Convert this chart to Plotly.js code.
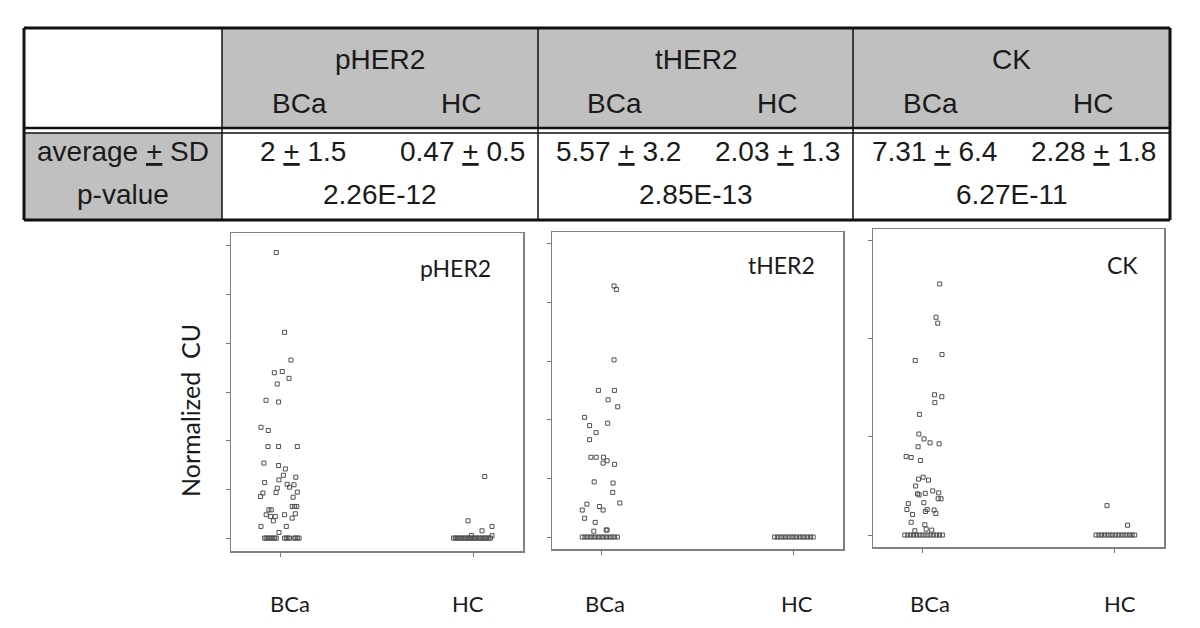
<!DOCTYPE html>
<html>
<head>
<meta charset="utf-8">
<script src="https://cdn.plot.ly/plotly-3.0.1.min.js"></script>
<style>
  html, body { margin: 0; padding: 0; background: #fff; }
  #chart { width: 1200px; height: 628px; }
</style>
</head>
<body>
<div id="chart"></div>
<script>
// ---- table values ----
const markers = ['pHER2', 'tHER2', 'CK'];
const groups = ['BCa', 'HC'];
const avgText = [['2', '1.5'], ['0.47', '0.5'], ['5.57', '3.2'], ['2.03', '1.3'], ['7.31', '6.4'], ['2.28', '1.8']];
const pValues = ['2.26E-12', '2.85E-13', '6.27E-11'];

// ---- scatter values (x = jitter offset from category, y = normalized CU) ----
const pherBcaX = [-0.021, 0.022, 0.055, -0.031, 0.010, 0.045, -0.016, -0.074, -0.009, -0.100, -0.062, -0.064, -0.009, 0.088,
  -0.085, -0.009, 0.026, 0.016, 0.080, -0.081, -0.007, 0.035, 0.071, 0.048, -0.016, -0.090, -0.102, -0.022, 0.088, 0.066,
  0.061, 0.074, 0.085, -0.059, -0.047, -0.073, 0.022, 0.078, -0.050, -0.026, -0.036, 0.061, -0.100, 0.031, -0.007,
  -0.081, -0.073, -0.064, -0.055, -0.047, -0.038, -0.029, -0.021, 0.022, 0.031, 0.040, 0.048, 0.071, 0.080, 0.088, 0.097];
const pherBcaY = [11.73, 8.45, 7.31, 6.79, 6.84, 6.56, 6.33, 5.66, 5.59, 4.55, 4.42, 3.76, 3.76, 3.76,
  3.08, 2.98, 2.84, 2.58, 2.50, 2.28, 2.39, 2.21, 2.19, 2.09, 2.05, 1.85, 1.71, 1.87, 1.89, 1.68,
  1.30, 1.30, 1.30, 1.16, 1.16, 0.96, 0.96, 1.00, 0.89, 0.89, 0.71, 0.82, 0.48, 0.48, 0.23,
  0, 0, 0, 0, 0, 0, 0, 0, 0, 0, 0, 0, 0, 0, 0, 0];
const pherHcX = [-0.029, 0.057, 0.043, 0.095, -0.012, 0.095,
  -0.104, -0.095, -0.087, -0.078, -0.069, -0.061, -0.052, -0.043, -0.035, -0.026, -0.017, -0.009,
  0.000, 0.009, 0.017, 0.026, 0.035, 0.043, 0.052, 0.061, 0.069, 0.078, 0.087];
const pherHcY = [0.71, 2.53, 0.30, 0.48, 0.11, 0.10,
  0, 0, 0, 0, 0, 0, 0, 0, 0, 0, 0, 0, 0, 0, 0, 0, 0, 0, 0, 0, 0, 0, 0];

const therBcaX = [0.067, 0.079, 0.067, -0.014, 0.069, 0.036, 0.086, -0.086, -0.060, 0.034, -0.026, -0.060, -0.053, -0.026,
  0.012, 0.031, 0.010, 0.069, -0.036, 0.062, 0.060, 0.097, -0.074, -0.098, -0.009, 0.010, -0.086, -0.031, -0.038, 0.026, 0.031,
  -0.098, -0.084, -0.070, -0.056, -0.042, -0.028, -0.014, 0.000, 0.014, 0.028, 0.042, 0.056, 0.070, 0.084];
const therBcaY = [21.4, 21.1, 15.1, 12.5, 12.5, 11.7, 11.1, 10.2, 9.5, 9.7, 8.9, 8.3, 6.8, 6.8,
  6.8, 6.5, 6.3, 6.2, 4.7, 4.6, 3.8, 2.9, 2.8, 2.3, 2.6, 2.3, 1.6, 1.25, 0.5, 0.6, 0.6,
  0, 0, 0, 0, 0, 0, 0, 0, 0, 0, 0, 0, 0, 0];
const therHcX = [-0.100, -0.086, -0.071, -0.057, -0.043, -0.029, -0.014, 0.000, 0.014, 0.029, 0.043, 0.057, 0.071, 0.086, 0.100];
const therHcY = [0, 0, 0, 0, 0, 0, 0, 0, 0, 0, 0, 0, 0, 0, 0];

const ckBcaX = [0.091, 0.072, 0.081, 0.103, -0.036, 0.064, 0.102, 0.066, -0.014, -0.017, 0.010, 0.041, 0.088, -0.021,
  -0.083, -0.057, -0.009, -0.019, 0.005, 0.033, -0.034, -0.024, -0.016, 0.016, 0.055, 0.086, 0.083, 0.098, -0.072, 0.009,
  -0.079, -0.050, 0.026, 0.017, 0.062, 0.071, -0.057, 0.014, -0.038, 0.021, 0.050,
  -0.090, -0.075, -0.060, -0.045, -0.030, -0.015, 0.000, 0.015, 0.030, 0.045, 0.060, 0.075, 0.090, 0.105];
const ckBcaY = [25.6, 22.2, 21.6, 18.4, 17.8, 14.3, 14.1, 13.5, 12.3, 10.3, 9.8, 9.4, 9.3, 9.0,
  8.0, 7.9, 7.6, 5.7, 5.9, 5.6, 5.0, 4.2, 4.1, 4.25, 4.5, 4.3, 3.7, 3.7, 3.2, 3.3,
  2.6, 2.1, 2.6, 2.4, 2.55, 2.2, 1.3, 1.05, 0.44, 0.6, 0.5,
  0, 0, 0, 0, 0, 0, 0, 0, 0, 0, 0, 0, 0, 0];
const ckHcX = [-0.041, 0.066,
  -0.098, -0.083, -0.069, -0.054, -0.040, -0.025, -0.011, 0.004, 0.018, 0.033, 0.047, 0.062, 0.076, 0.090, 0.103];
const ckHcY = [3.0, 1.0, 0, 0, 0, 0, 0, 0, 0, 0, 0, 0, 0, 0, 0, 0, 0];

// ---- helpers: pixel -> paper fraction ----
const W = 1200, H = 628;
const fx = x => x / W;
const fy = y => 1 - y / H;

const tableFont = 'Liberation Sans, Arial, sans-serif';
const plotFont = 'Lato, Open Sans, sans-serif';
const gray = '#c0c0c0';

const shapes = [];
const annotations = [];

function rect(x0, y0, x1, y1, fill) {
  shapes.push({type: 'rect', xref: 'paper', yref: 'paper', x0: fx(x0), x1: fx(x1), y0: fy(y0), y1: fy(y1),
    fillcolor: fill, line: {width: 0}, layer: 'below'});
}
function line(x0, y0, x1, y1, w) {
  shapes.push({type: 'line', xref: 'paper', yref: 'paper', x0: fx(x0), x1: fx(x1), y0: fy(y0), y1: fy(y1),
    line: {color: '#111', width: w}});
}
function text(x, y, t, size, font, angle) {
  annotations.push({xref: 'paper', yref: 'paper', x: fx(x), y: fy(y), text: t, showarrow: false, textangle: angle || 0,
    xanchor: 'center', yanchor: 'middle', font: {family: font || tableFont, size: size || 28, color: '#1a1a1a'}});
}

// table geometry
const tL = 24, tR = 1170, tT = 28, tB = 220, dbl1 = 128, dbl2 = 133;
const colEdges = [222, 538, 853, 1170];

rect(colEdges[0], tT, tR, dbl1, gray);
rect(tL, dbl2, colEdges[0], tB, gray);
line(tL, tT, tR, tT, 3);
line(tL, tB, tR, tB, 3);
line(tL, tT, tL, tB, 3);
line(tR, tT, tR, tB, 3);
line(tL, dbl1, tR, dbl1, 2.5);
line(tL, dbl2, tR, dbl2, 1.5);
colEdges.slice(0, 3).forEach(x => line(x, tT, x, tB, 1.5));

markers.forEach((m, i) => {
  const c = (colEdges[i] + colEdges[i + 1]) / 2;
  text(c, 60, m);
  text(c - 81, 103, groups[0]);
  text(c + 81, 103, groups[1]);
  const a = avgText[2 * i], b = avgText[2 * i + 1];
  text(c - 77, 151, a[0] + ' <u>+</u> ' + a[1]);
  text(c + 82, 151, b[0] + ' <u>+</u> ' + b[1]);
  text(c, 194, pValues[i]);
});
text((tL + colEdges[0]) / 2, 151, 'average <u>+</u> SD');
text((tL + colEdges[0]) / 2, 194, 'p-value');

// scatter panels
const panels = [
  {name: 'pHER2', bx: pherBcaX, by: pherBcaY, hx: pherHcX, hy: pherHcY, box: [231, 523, 233, 551], yr: [-0.53, 12.53], dt: 2,
    lab: [455, 268], grp: [290, 468]},
  {name: 'tHER2', bx: therBcaX, by: therBcaY, hx: therHcX, hy: therHcY, box: [552, 843, 232, 549], yr: [-1.02, 26.0], dt: 5,
    lab: [782, 265], grp: [605, 797]},
  {name: 'CK', bx: ckBcaX, by: ckBcaY, hx: ckHcX, hy: ckHcY, box: [873, 1164, 229, 547], yr: [-1.22, 31.2], dt: 10,
    lab: [1122, 265], grp: [930, 1120]}
];

const data = [];
const layout = {
  width: W, height: H,
  margin: {l: 0, r: 0, t: 0, b: 0},
  paper_bgcolor: '#fff', plot_bgcolor: '#fff',
  showlegend: false,
  shapes: shapes,
  annotations: annotations
};

const mk = {symbol: 'square-open', size: 4, color: '#505050', line: {width: 1}};

panels.forEach((p, i) => {
  const n = i === 0 ? '' : String(i + 1);
  data.push({type: 'scatter', mode: 'markers', x: p.bx.map(v => 1 + v), y: p.by, xaxis: 'x' + n, yaxis: 'y' + n, marker: mk, hoverinfo: 'skip'});
  data.push({type: 'scatter', mode: 'markers', x: p.hx.map(v => 2 + v), y: p.hy, xaxis: 'x' + n, yaxis: 'y' + n, marker: mk, hoverinfo: 'skip'});
  const [x0, x1, y0, y1] = p.box;
  layout['xaxis' + n] = {
    domain: [fx(x0), fx(x1)], range: [0.745, 2.255], anchor: 'y' + n,
    tickvals: [1, 2], ticks: 'outside', ticklen: 4, tickcolor: '#777', showticklabels: false,
    showline: true, mirror: true, linecolor: '#808080', linewidth: 1.5,
    showgrid: false, zeroline: false, fixedrange: true
  };
  layout['yaxis' + n] = {
    domain: [fy(y1), fy(y0)], range: p.yr, anchor: 'x' + n,
    dtick: p.dt, tick0: 0, ticks: 'outside', ticklen: 4, tickcolor: '#777', showticklabels: false,
    showline: true, mirror: true, linecolor: '#808080', linewidth: 1.5,
    showgrid: false, zeroline: false, fixedrange: true
  };
  text(p.lab[0], p.lab[1], p.name, 23, plotFont);
  text(p.grp[0], 603, groups[0], 22, plotFont);
  text(p.grp[1], 603, groups[1], 22, plotFont);
});

text(190, 411, 'Normalized\u00a0\u00a0CU', 25, plotFont, -90);

Plotly.newPlot('chart', data, layout, {staticPlot: true});
</script>
</body>
</html>
